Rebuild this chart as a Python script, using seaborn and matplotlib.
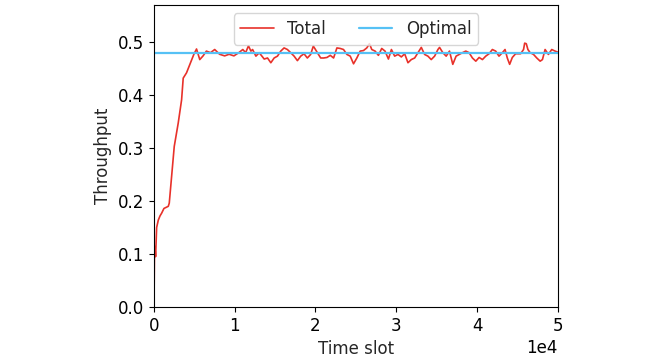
import numpy as np
import pandas as pd
import matplotlib
matplotlib.use("Agg")
import matplotlib.pyplot as plt
import seaborn as sns

# ---- data ----
time_slot = [0, 60, 120, 200, 330, 535, 750, 947, 1235, 1500, 1770, 1893, 2180, 2510,
             3000, 3420, 3620, 4030, 4440, 4940, 5270, 5670, 6080, 6490, 7000, 7520,
             8130, 8750, 9300, 9900, 10500, 11000, 11350, 11700, 12000, 12212, 12620,
             13030, 13650, 14060, 14470, 14880, 15290, 15700, 16110, 16520, 16930,
             17350, 17760, 18170, 18580, 18990, 19400, 19730, 20230, 20640, 21010,
             21420, 21830, 22240, 22650, 23060, 23470, 23890, 24300, 24710, 25120,
             25530, 25940, 26350, 26680, 26970, 27380, 27790, 28200, 28610, 29030,
             29400, 29800, 30220, 30630, 31040, 31450, 31860, 32280, 32690, 33100,
             33510, 33920, 34330, 34750, 35160, 35360, 35770, 36180, 36590, 37000,
             37410, 37790, 38200, 38610, 39020, 39430, 39850, 40260, 40670, 41080,
             41490, 41900, 42310, 42720, 43140, 43470, 43750, 44040, 44370, 44780,
             45400, 45760, 45900, 46100, 46300, 46580, 47000, 47400, 47820, 48100,
             48430, 48840, 49250, 49670, 50000]
total = [0.0, 0.10, 0.114, 0.095, 0.150, 0.164, 0.172, 0.177, 0.186, 0.188, 0.190,
         0.196, 0.246, 0.303, 0.347, 0.391, 0.432, 0.442, 0.458, 0.477, 0.487, 0.467,
         0.474, 0.483, 0.480, 0.486, 0.477, 0.474, 0.477, 0.474, 0.480, 0.486, 0.480,
         0.493, 0.483, 0.486, 0.4735, 0.480, 0.468, 0.470, 0.461, 0.470, 0.4735,
         0.483, 0.489, 0.486, 0.480, 0.4735, 0.465, 0.4735, 0.478, 0.470, 0.4767,
         0.4925, 0.480, 0.470, 0.470, 0.471, 0.475, 0.470, 0.489, 0.488, 0.486,
         0.4767, 0.4735, 0.459, 0.470, 0.483, 0.484, 0.489, 0.497, 0.486, 0.483,
         0.475, 0.488, 0.483, 0.468, 0.486, 0.4735, 0.4767, 0.472, 0.478, 0.461,
         0.467, 0.470, 0.480, 0.490, 0.4767, 0.4735, 0.467, 0.4735, 0.486, 0.490,
         0.480, 0.4735, 0.483, 0.458, 0.4735, 0.4767, 0.480, 0.483, 0.480, 0.470,
         0.464, 0.471, 0.467, 0.4735, 0.478, 0.486, 0.483, 0.4735, 0.480, 0.486,
         0.470, 0.458, 0.471, 0.478, 0.478, 0.486, 0.498, 0.497, 0.486, 0.480,
         0.4767, 0.470, 0.464, 0.467, 0.486, 0.4767, 0.486, 0.483, 0.481]
optimal_value = 0.48
x_range = [0, 50000]
y_ticks = [0.0, 0.1, 0.2, 0.3, 0.4, 0.5]

df_total = pd.DataFrame({"t": time_slot, "v": total})
df_opt = pd.DataFrame({"t": x_range, "v": [optimal_value] * len(x_range)})

sns.set_style("ticks")
plt.rcParams["font.family"] = ["DejaVu Sans"]
plt.rcParams["axes.edgecolor"] = "black"
plt.rcParams["xtick.color"] = "black"
plt.rcParams["ytick.color"] = "black"

fig = plt.figure(figsize=(6.68, 3.58), dpi=100)
ax = fig.add_axes([0.2305, 0.1425, 0.6045, 0.8435])

sns.lineplot(data=df_total, x="t", y="v", ax=ax, color="#e8312a", lw=1.2,
             label="Total")
sns.lineplot(data=df_opt, x="t", y="v", ax=ax, color="#56c1f5", lw=1.6,
             label="Optimal")

ax.set_xlim(x_range)
ax.set_ylim(0, 0.57)
ax.set_yticks(y_ticks)
ax.ticklabel_format(style="sci", axis="x", scilimits=(0, 0))
ax.tick_params(labelsize=12, direction="out")
ax.xaxis.get_offset_text().set_fontsize(12)
ax.set_xlabel("Time slot", fontsize=12)
ax.set_ylabel("Throughput", fontsize=12)
for s in ax.spines.values():
    s.set_visible(True)
    s.set_color("black")
ax.legend(loc="upper center", ncol=2, fontsize=12, frameon=True)

fig.savefig("out.png", dpi=100)
